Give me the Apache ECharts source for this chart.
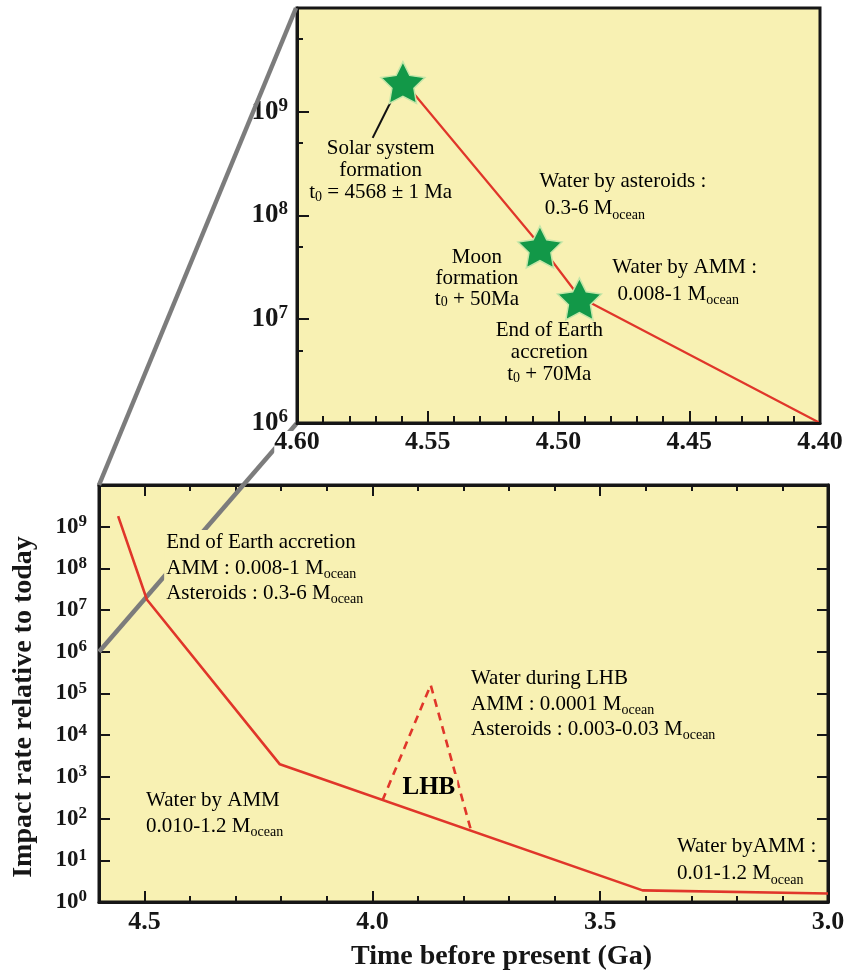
<!DOCTYPE html>
<html><head><meta charset="utf-8">
<script src="https://cdn.jsdelivr.net/npm/echarts@6/dist/echarts.min.js"></script>
<style>html,body{margin:0;padding:0;background:#fff}#c{width:848px;height:975px}</style>
</head><body><div id="c"></div>
<script>
// ---------- data ----------
const insetTime = [4.5595, 4.5071, 4.492, 4.40];
const insetRate = [2.0e9, 5.2e7, 1.64e7, 1.0e6];
const starTime = [4.5595, 4.5071, 4.492];
const starRate = [2.0e9, 5.2e7, 1.64e7];
const mainTime = [4.558, 4.495, 4.203, 3.407, 3.0];
const mainRate = [1.8e9, 1.8e7, 2.0e3, 1.9, 1.6];
const lhbTime = [3.978, 3.872, 3.783];
const lhbRate = [270, 1.6e5, 50];
const insetXTicks = ['4.60', '4.55', '4.50', '4.45', '4.40'];
const mainXTicks = ['4.5', '4.0', '3.5', '3.0'];
const insetYExp = [6, 7, 8, 9];
const mainYExp = [0, 1, 2, 3, 4, 5, 6, 7, 8, 9];
const insetMinorRate = [5e6, 5e7, 5e8, 5e9];
const insetNotes = [
  '{n|Solar system}\n{n|formation}\n{n|t}{s|0}{n| = 4568 ± 1 Ma}',
  '{n|Water by asteroids :}\n{n| 0.3-6 M}{s|ocean}',
  '{n|Moon}\n{n|formation}\n{n|t}{s|0}{n| + 50Ma}',
  '{n|Water by AMM :}\n{n| 0.008-1 M}{s|ocean}',
  '{n|End of Earth}\n{n|accretion}\n{n|t}{s|0}{n| + 70Ma}'
];
const mainNotes = [
  '{n|End of Earth accretion}\n{n|AMM : 0.008-1 M}{s|ocean}\n{n|Asteroids : 0.3-6 M}{s|ocean}',
  '{n|Water during LHB}\n{n|AMM : 0.0001 M}{s|ocean}\n{n|Asteroids : 0.003-0.03 M}{s|ocean}',
  '{b|LHB}',
  '{n|Water by AMM}\n{n|0.010-1.2 M}{s|ocean}',
  '{n|Water byAMM :}\n{n|0.01-1.2 M}{s|ocean}'
];
const xName = 'Time before present (Ga)';
const yName = 'Impact rate relative to today';

// ---------- styling ----------
const FONT = '"Liberation Serif","Times New Roman",serif';
const INK = '#161616';
const BG = '#f8f1b3';
const RED = '#e0362a';
const STAR = 'path://M50,0 L64.7,29.8 L97.6,34.5 L73.8,57.7 L79.4,90.5 L50,75 L20.6,90.5 L26.2,57.7 L2.4,34.5 L35.3,29.8 Z';

function expRich(big, small) {
  return {
    b: { fontFamily: FONT, fontWeight: 'bold', fontSize: big, lineHeight: big + 4, color: INK },
    e: { fontFamily: FONT, fontWeight: 'bold', fontSize: small, lineHeight: small + 1, verticalAlign: 'top', color: INK }
  };
}
function expFormatter(list) {
  return function (v) {
    const e = Math.round(Math.log10(v));
    return list.indexOf(e) >= 0 ? '{b|10}{e|' + e + '}' : '';
  };
}
function tickFormatter(list) {
  return function (v) {
    const t = list.find(s => Math.abs(parseFloat(s) - v) < 1e-6);
    return t || '';
  };
}
const tickLine = { color: INK, width: 2 };

const option = {
  backgroundColor: '#ffffff',
  animation: false,
  grid: [
    { left: 297, top: 8, width: 523, height: 415, show: true, backgroundColor: BG, borderColor: INK, borderWidth: 3 },
    { left: 99, top: 485, width: 729, height: 417, show: true, backgroundColor: BG, borderColor: INK, borderWidth: 3 }
  ],
  xAxis: [
    { gridIndex: 0, type: 'value', inverse: true, min: 4.40, max: 4.60, interval: 0.05, position: 'bottom', z: 5,
      axisLine: { onZero: false, lineStyle: { color: INK, width: 3 } },
      axisTick: { inside: true, length: 12, lineStyle: tickLine },
      minorTick: { show: true, splitNumber: 5, length: 7, lineStyle: tickLine },
      splitLine: { show: false },
      axisLabel: { showMinLabel: true, showMaxLabel: true, margin: 8, lineHeight: 22, formatter: tickFormatter(insetXTicks),
        fontFamily: FONT, fontWeight: 'bold', fontSize: 26, color: INK, backgroundColor: '#fff' } },
    { gridIndex: 1, type: 'value', inverse: true, min: 3.0, max: 4.6, interval: 0.5, position: 'bottom',
      axisLine: { onZero: false, lineStyle: { color: INK, width: 3 } },
      axisTick: { inside: true, length: 11, lineStyle: tickLine },
      minorTick: { show: true, splitNumber: 5, length: 6, lineStyle: tickLine },
      splitLine: { show: false },
      axisLabel: { showMinLabel: true, showMaxLabel: true, margin: 7, formatter: tickFormatter(mainXTicks),
        fontFamily: FONT, fontWeight: 'bold', fontSize: 26, color: INK },
      name: xName, nameLocation: 'middle', nameGap: 41,
      nameTextStyle: { fontFamily: FONT, fontWeight: 'bold', fontSize: 28, color: INK, padding: [0, 0, 0, 76] } },
    { gridIndex: 1, type: 'value', inverse: true, min: 3.0, max: 4.6, interval: 0.5, position: 'top',
      axisLine: { onZero: false, lineStyle: { color: INK, width: 3 } },
      axisTick: { inside: true, length: 11, lineStyle: tickLine },
      minorTick: { show: true, splitNumber: 5, length: 6, lineStyle: tickLine },
      splitLine: { show: false }, axisLabel: { show: false } }
  ],
  yAxis: [
    { gridIndex: 0, type: 'log', logBase: 10, min: 1e6, max: 1e10, interval: 1, position: 'left',
      axisLine: { onZero: false, lineStyle: { color: INK, width: 3 } },
      axisTick: { inside: true, length: 12, lineStyle: tickLine },
      splitLine: { show: false }, minorTick: { show: false },
      axisLabel: { margin: 9, formatter: expFormatter(insetYExp), rich: expRich(27, 19) } },
    { gridIndex: 0, type: 'value', min: 6, max: 10, position: 'left',
      axisLine: { show: false }, axisLabel: { show: false }, splitLine: { show: false },
      axisTick: { inside: true, length: 6, lineStyle: tickLine, customValues: insetMinorRate.map(v => Math.log10(v)) } },
    { gridIndex: 1, type: 'log', logBase: 10, min: 1, max: 1e10, interval: 1, position: 'left',
      axisLine: { onZero: false, lineStyle: { color: INK, width: 3 } },
      axisTick: { inside: true, length: 11, lineStyle: tickLine },
      splitLine: { show: false }, minorTick: { show: false },
      axisLabel: { margin: 12, formatter: expFormatter(mainYExp), rich: expRich(23, 17) },
      name: yName, nameLocation: 'middle', nameGap: 61, nameRotate: 90,
      nameTextStyle: { fontFamily: FONT, fontWeight: 'bold', fontSize: 28, color: INK, padding: [0, 27, 0, 0] } },
    { gridIndex: 1, type: 'log', logBase: 10, min: 1, max: 1e10, interval: 1, position: 'right',
      axisLine: { onZero: false, lineStyle: { color: INK, width: 3 } },
      axisTick: { inside: true, length: 11, lineStyle: tickLine },
      splitLine: { show: false }, axisLabel: { show: false } }
  ],
  series: [
    { type: 'line', xAxisIndex: 0, yAxisIndex: 0, data: insetTime.map((t, i) => [t, insetRate[i]]),
      symbol: 'none', lineStyle: { color: RED, width: 2.2 }, z: 3 },
    { type: 'scatter', xAxisIndex: 0, yAxisIndex: 0, data: starTime.map((t, i) => [t, starRate[i]]),
      symbol: STAR, symbolSize: 44, symbolKeepAspect: true, symbolOffset: [0, 2],
      itemStyle: { color: '#129848', borderColor: '#c4e6a8', borderWidth: 1.5, opacity: 1 }, z: 6 },
    { type: 'line', xAxisIndex: 1, yAxisIndex: 2, data: mainTime.map((t, i) => [t, mainRate[i]]),
      symbol: 'none', lineStyle: { color: RED, width: 2.6 }, z: 3 },
    { type: 'line', xAxisIndex: 1, yAxisIndex: 2, data: lhbTime.map((t, i) => [t, lhbRate[i]]),
      symbol: 'none', lineStyle: { color: RED, width: 2.6, type: [8, 6] }, z: 3 }
  ]
};

const chart = echarts.init(document.getElementById('c'), null, { renderer: 'canvas' });
chart.setOption(option);

// ---------- decorations placed through the axes ----------
const P0 = (x, y) => chart.convertToPixel({ xAxisIndex: 0, yAxisIndex: 0 }, [x, y]);
const P1 = (x, y) => chart.convertToPixel({ xAxisIndex: 1, yAxisIndex: 2 }, [x, y]);

function noteRich(size, sub, lh, align) {
  return {
    n: { fontFamily: FONT, fontSize: size, lineHeight: lh, color: INK, align: align },
    s: { fontFamily: FONT, fontSize: sub, lineHeight: sub + 4, verticalAlign: 'bottom', color: INK, align: align },
    b: { fontFamily: FONT, fontSize: 25, fontWeight: 'bold', lineHeight: 28, color: INK, align: align }
  };
}
function note(p, text, size, sub, lh, align, vAlign, bg) {
  return { type: 'text', x: p[0], y: p[1], z: 20, silent: true,
    style: { text: text, rich: noteRich(size, sub, lh, align), align: align, verticalAlign: vAlign || 'top',
      backgroundColor: bg || 'transparent', padding: bg ? [0, 2] : 0 } };
}

const insetAnchors = [[4.568, 5.6e8, 'center', 22], [4.5073, 2.85e8, 'left', 27], [4.5312, 5.0e7, 'center', 21],
  [4.4794, 4.3e7, 'left', 27], [4.5035, 9.8e6, 'center', 21.6]];
const mainAnchors = [[4.457, 8.3e8, 'left', 25.5, 'top'], [3.788, 4.6e5, 'left', 25.5, 'top'], [3.876, 542, 'center', 28, 'middle'],
  [4.501, 560, 'left', 26, 'top'], [3.336, 45, 'left', 27, 'top']];

const g = [];
// zoom connector lines
const a0 = P0(4.60, 1e10), a1 = P1(4.60, 1e10), b0 = P0(4.60, 1e6), b1 = P1(4.60, 1e6);
g.push({ type: 'line', z: 1, silent: true, shape: { x1: a0[0] - 1, y1: a0[1], x2: a1[0], y2: a1[1] }, style: { stroke: '#7c7c7c', lineWidth: 4.5 } });
g.push({ type: 'line', z: 1, silent: true, shape: { x1: b0[0], y1: b0[1], x2: b1[0], y2: b1[1] }, style: { stroke: '#7c7c7c', lineWidth: 4.5 } });
insetAnchors.forEach((a, i) => g.push(note(P0(a[0], a[1]), insetNotes[i], 21, 14, a[3], a[2], 'top')));
mainAnchors.forEach((a, i) => g.push(note(P1(a[0], a[1]), mainNotes[i], 21, 14, a[3], a[2], a[4], BG)));
// leader from the first star to its note
const s0 = P0(starTime[0], starRate[0]);
const n0 = P0(insetAnchors[0][0], insetAnchors[0][1]);
g.push({ type: 'line', z: 5, silent: true, shape: { x1: s0[0] - 10, y1: s0[1] + 17, x2: n0[0] - 8, y2: n0[1] }, style: { stroke: '#111', lineWidth: 2 } });
chart.setOption({ graphic: g });
</script></body></html>
